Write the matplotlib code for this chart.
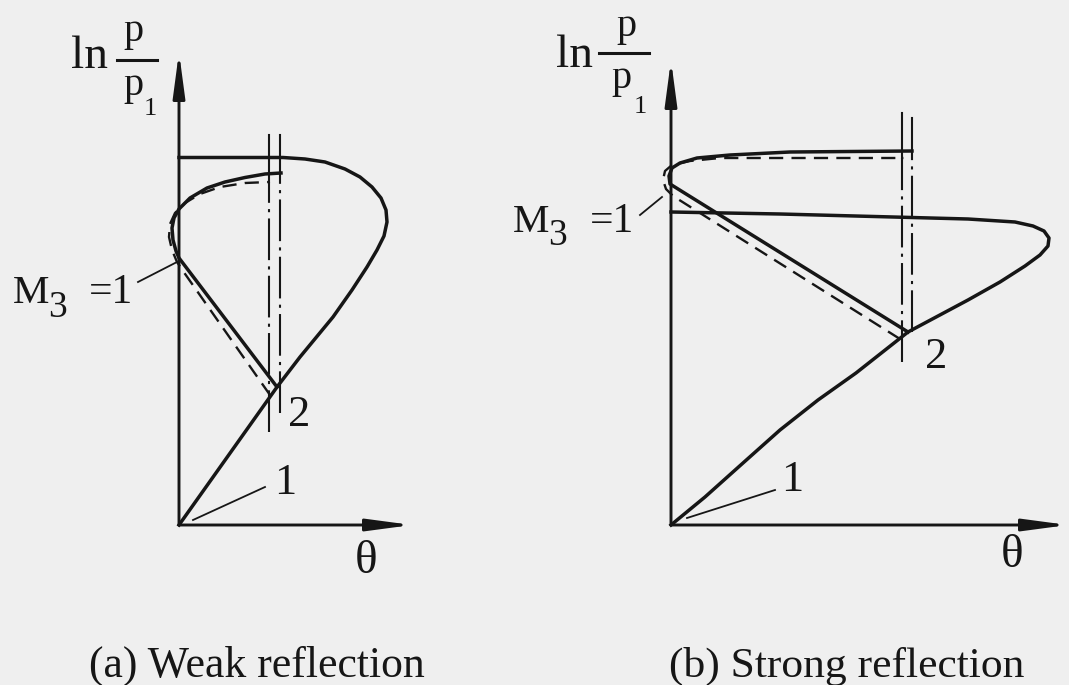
import matplotlib.pyplot as plt

plt.rcParams['font.family'] = ['Liberation Serif', 'DejaVu Serif']

ink = '#161616'
paper = '#efefef'
W, H = 1069, 685

# ---- (a) weak reflection, polars in the (theta, ln p/p1) plane ----
a_inc_theta = [0, 9.8, 12.1, 15.4, 17.3, 18.8, 19.8, 20.5, 20.8, 20.7, 20.2, 19.3,
               18.1, 16.6, 14.6, 12.6, 10.4, 0]
a_inc_lnp = [0, 13.8, 16.8, 20.8, 23.5, 25.8, 27.5, 28.9, 30.3, 31.5, 32.7, 33.8,
             34.8, 35.6, 36.3, 36.6, 36.75, 36.75]
a_ref_theta = [9.8, 0, -0.3, -0.6, -0.7, -0.5, 0, 1.1, 2.8, 4.6, 6.6, 8.6, 10.2]
a_ref_lnp = [13.8, 26.7, 27.4, 28.5, 29.7, 30.7, 31.6, 32.7, 33.7, 34.3, 34.75, 35.1, 35.2]
a_ref2_theta = [9.1, 0.4, -0.2, -0.7, -1.0, -0.9, -0.4, 0.6, 2.1, 4.1, 6.6, 9.0]
a_ref2_lnp = [13.0, 25.4, 26.3, 27.5, 28.8, 30.1, 31.2, 32.2, 33.1, 33.8, 34.2, 34.3]
a_wall_theta = [10.1, 9.0]
a_wall_low = [11.2, 9.3]
a_wall_join = [35.2, 34.3]
a_wall_top = [39.0, 39.0]

# ---- (b) strong reflection ----
b_inc_theta = [0, 3.4, 7.2, 10.9, 14.7, 18.5, 23.7, 29.7, 32.9, 35.4, 36.9, 37.7, 37.8,
               37.3, 36.2, 34.4, 29.7, 22.2, 10.9, 0]
b_inc_lnp = [0, 2.8, 6.2, 9.5, 12.5, 15.2, 19.3, 22.5, 24.3, 25.9, 27.0, 27.9, 28.7,
             29.4, 29.9, 30.3, 30.6, 30.8, 31.1, 31.3]
b_ref_theta = [23.7, -0.1, -0.2, 0.1, 0.9, 2.6, 5.9, 11.9, 24.1]
b_ref_lnp = [19.3, 34.1, 34.9, 35.7, 36.2, 36.7, 37.0, 37.3, 37.4]
b_ref2_theta = [22.9, 0.2, -0.5, -0.8, -0.6, 0.1, 1.9, 4.9, 23.3]
b_ref2_lnp = [18.6, 32.9, 33.6, 34.5, 35.4, 36.0, 36.4, 36.7, 36.7]
b_wall_theta = [24.1, 23.1]
b_wall_low = [19.3, 16.3]
b_wall_join = [37.4, 36.7]
b_wall_top = [40.7, 41.2]

fig = plt.figure(figsize=(W / 100, H / 100), dpi=100, facecolor=paper)


def make_axes(ox, oy):
    # one overlay axes per panel, 10 px per unit, origin at (ox, oy) px from top-left
    ax = fig.add_axes([0, 0, 1, 1])
    ax.set_xlim(-ox / 10, (W - ox) / 10)
    ax.set_ylim(-(H - oy) / 10, oy / 10)
    ax.axis('off')
    return ax


def arrow(ax, tip):
    ax.annotate('', xy=tip, xytext=(0, 0),
                arrowprops=dict(arrowstyle='-|>,head_length=1.8,head_width=0.24',
                                color=ink, lw=2.1, shrinkA=0, shrinkB=0,
                                mutation_scale=15))


def draw_panel(ax, inc, ref, ref2, walls, xtip, ytip):
    arrow(ax, (0, ytip))
    arrow(ax, (xtip, 0))
    ax.plot(*inc, color=ink, lw=2.5, solid_joinstyle='round')
    ax.plot(*ref, color=ink, lw=2.5, solid_joinstyle='round')
    ax.plot(*ref2, color=ink, lw=1.7, dashes=(6, 3.5))
    for t, lo, mid, hi in zip(*walls):
        ax.plot([t, t], [mid, hi], color=ink, lw=1.5)
        ax.plot([t, t], [lo, mid], color=ink, lw=1.5, dashes=(20, 3, 1.5, 3))


def txt(ax, x, y, s, size, ha='left'):
    ax.text(x, y, s, fontsize=size, ha=ha, va='baseline', color=ink)


def ylabel(ax, ln_x, ln_y, bar_x0, bar_x1, bar_y, num_x, num_y, den_x, den_y, sub_x, sub_y):
    # ln p/p1 written as a stacked fraction
    txt(ax, ln_x, ln_y, 'ln', 34, ha='right')
    ax.plot([bar_x0, bar_x1], [bar_y, bar_y], color=ink, lw=2.2)
    txt(ax, num_x, num_y, 'p', 29)
    txt(ax, den_x, den_y, 'p', 29)
    txt(ax, sub_x, sub_y, '1', 19)


def mach_label(ax, x, y, sub_x, sub_y, eq_x):
    txt(ax, x, y, 'M', 29.5)
    txt(ax, sub_x, sub_y, '3', 27)
    txt(ax, eq_x, y, '=1', 30)


ax_a = make_axes(179, 525)
draw_panel(ax_a, (a_inc_theta, a_inc_lnp), (a_ref_theta, a_ref_lnp),
           (a_ref2_theta, a_ref2_lnp),
           (a_wall_theta, a_wall_low, a_wall_join, a_wall_top), 23.3, 47.3)
ylabel(ax_a, -7.1, 45.7, -6.2, -2.2, 46.5, -5.6, 48.4, -5.6, 43.0, -3.5, 41.0)
mach_label(ax_a, -16.6, 22.2, -13.1, 20.8, -9.0)
ax_a.plot([-4.1, -0.2], [24.3, 26.3], color=ink, lw=1.3)
ax_a.text(12.0, 11.0, '2', fontsize=32, ha='center', va='center', color=ink)
ax_a.text(10.6, 4.2, '1', fontsize=32, ha='center', va='center', color=ink)
ax_a.plot([1.4, 8.6], [0.5, 3.8], color=ink, lw=1.3)
ax_a.text(18.7, -3.7, 'θ', fontsize=34, ha='center', va='center', color=ink)
ax_a.text(7.75, -15.2, '(a) Weak reflection', fontsize=31.5, ha='center', va='baseline',
          color=ink)

ax_b = make_axes(671, 525)
draw_panel(ax_b, (b_inc_theta, b_inc_lnp), (b_ref_theta, b_ref_lnp),
           (b_ref2_theta, b_ref2_lnp),
           (b_wall_theta, b_wall_low, b_wall_join, b_wall_top), 39.7, 46.5)
ylabel(ax_b, -7.8, 45.8, -7.2, -2.2, 47.2, -5.5, 48.9, -6.0, 43.7, -3.7, 41.2)
mach_label(ax_b, -15.8, 29.3, -12.3, 28.0, -8.1)
ax_b.plot([-3.1, -0.9], [31.0, 32.8], color=ink, lw=1.3)
ax_b.text(26.5, 16.8, '2', fontsize=32, ha='center', va='center', color=ink)
ax_b.text(12.1, 4.5, '1', fontsize=32, ha='center', va='center', color=ink)
ax_b.plot([1.6, 10.4], [0.7, 3.5], color=ink, lw=1.3)
ax_b.text(34.1, -3.1, 'θ', fontsize=34, ha='center', va='center', color=ink)
ax_b.text(17.6, -15.2, '(b) Strong reflection', fontsize=31.3, ha='center', va='baseline',
          color=ink)

fig.savefig('out.png', dpi=100, facecolor=paper)
